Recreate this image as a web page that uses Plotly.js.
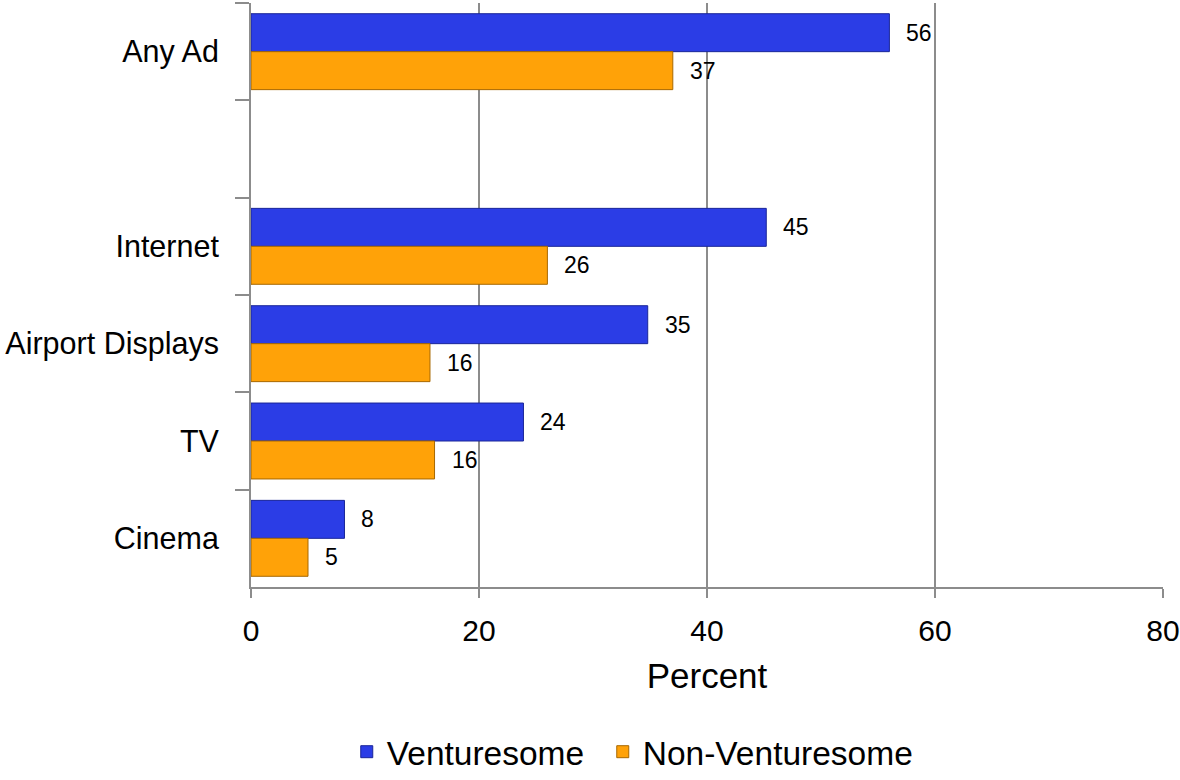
<!DOCTYPE html>
<html>
<head>
<meta charset="utf-8">
<script src="https://cdn.plot.ly/plotly-3.0.1.min.js"></script>
<style>
  html, body { margin: 0; padding: 0; background: #ffffff; }
  #chart { width: 1180px; height: 780px; }
</style>
</head>
<body>
<div id="chart"></div>
<script>
// Categories (top to bottom); the blank entry is the empty gap row
const categories = ['Any Ad', ' ', 'Internet', 'Airport Displays', 'TV', 'Cinema'];
const venturesome = [56, null, 45.2, 34.8, 23.9, 8.2];
const nonVenturesome = [37, null, 26, 15.7, 16.1, 5];
const seriesNames = ['Venturesome', 'Non-Venturesome'];
const xTicks = [0, 20, 40, 60, 80];

const BLUE = '#2b3de6';
const BLUE_EDGE = '#1a2699';
const ORANGE = '#ffa208';
const ORANGE_EDGE = '#a86800';
const GRID = '#8c8c8c';
const FONT = 'Liberation Sans, Arial, sans-serif';

const traces = [
  {
    type: 'bar', orientation: 'h', name: seriesNames[0],
    y: categories, x: venturesome,
    marker: { color: BLUE, line: { color: BLUE_EDGE, width: 1 } },
    legendwidth: 211,
    hoverinfo: 'skip'
  },
  {
    type: 'bar', orientation: 'h', name: seriesNames[1],
    y: categories, x: nonVenturesome,
    marker: { color: ORANGE, line: { color: ORANGE_EDGE, width: 1 } },
    legendwidth: 310,
    hoverinfo: 'skip'
  }
];

const annotations = [];
[venturesome, nonVenturesome].forEach((vals, si) => {
  vals.forEach((v, i) => {
    if (v === null) return;
    annotations.push({
      x: v, y: categories[i], xref: 'x', yref: 'y',
      text: String(Math.round(v)), showarrow: false,
      xanchor: 'left', yanchor: 'middle',
      xshift: 15, yshift: si === 0 ? 19 : -19,
      font: { family: FONT, size: 23, color: '#000000' }
    });
  });
});

const layout = {
  width: 1180, height: 780,
  paper_bgcolor: '#ffffff', plot_bgcolor: '#ffffff',
  margin: { l: 251, r: 17, t: 3, b: 193, pad: 0 },
  barmode: 'group', bargap: 0.22, bargroupgap: 0,
  showlegend: true,
  legend: {
    orientation: 'h', xref: 'paper', yref: 'container',
    x: 0.105, xanchor: 'left', y: 0.036, yanchor: 'middle',
    font: { family: FONT, size: 33.5, color: '#000000' },
    traceorder: 'normal', itemclick: false, itemdoubleclick: false
  },
  xaxis: {
    range: [0, 80], tickvals: xTicks, ticktext: xTicks.map(String),
    showgrid: true, gridcolor: GRID, gridwidth: 2,
    zeroline: false, showline: true, linecolor: GRID, linewidth: 2,
    ticks: 'outside', ticklen: 9, tickwidth: 2, tickcolor: GRID,
    tickfont: { family: FONT, size: 30, color: '#000000' },
    ticklabelstandoff: 7,
    title: { text: 'Percent', font: { family: FONT, size: 35, color: '#000000' }, standoff: 17 },
    fixedrange: true
  },
  yaxis: {
    type: 'category', categoryorder: 'array', categoryarray: categories,
    range: [5.5, -0.5],
    showgrid: false, zeroline: false,
    showline: true, linecolor: GRID, linewidth: 2,
    ticks: 'outside', tickson: 'boundaries', ticklen: 14, tickwidth: 2, tickcolor: GRID,
    tickfont: { family: FONT, size: 30.5, color: '#000000' },
    ticklabelstandoff: 24,
    fixedrange: true
  },
  annotations: annotations
};

Plotly.newPlot('chart', traces, layout, { displayModeBar: false, staticPlot: true });
</script>
</body>
</html>
